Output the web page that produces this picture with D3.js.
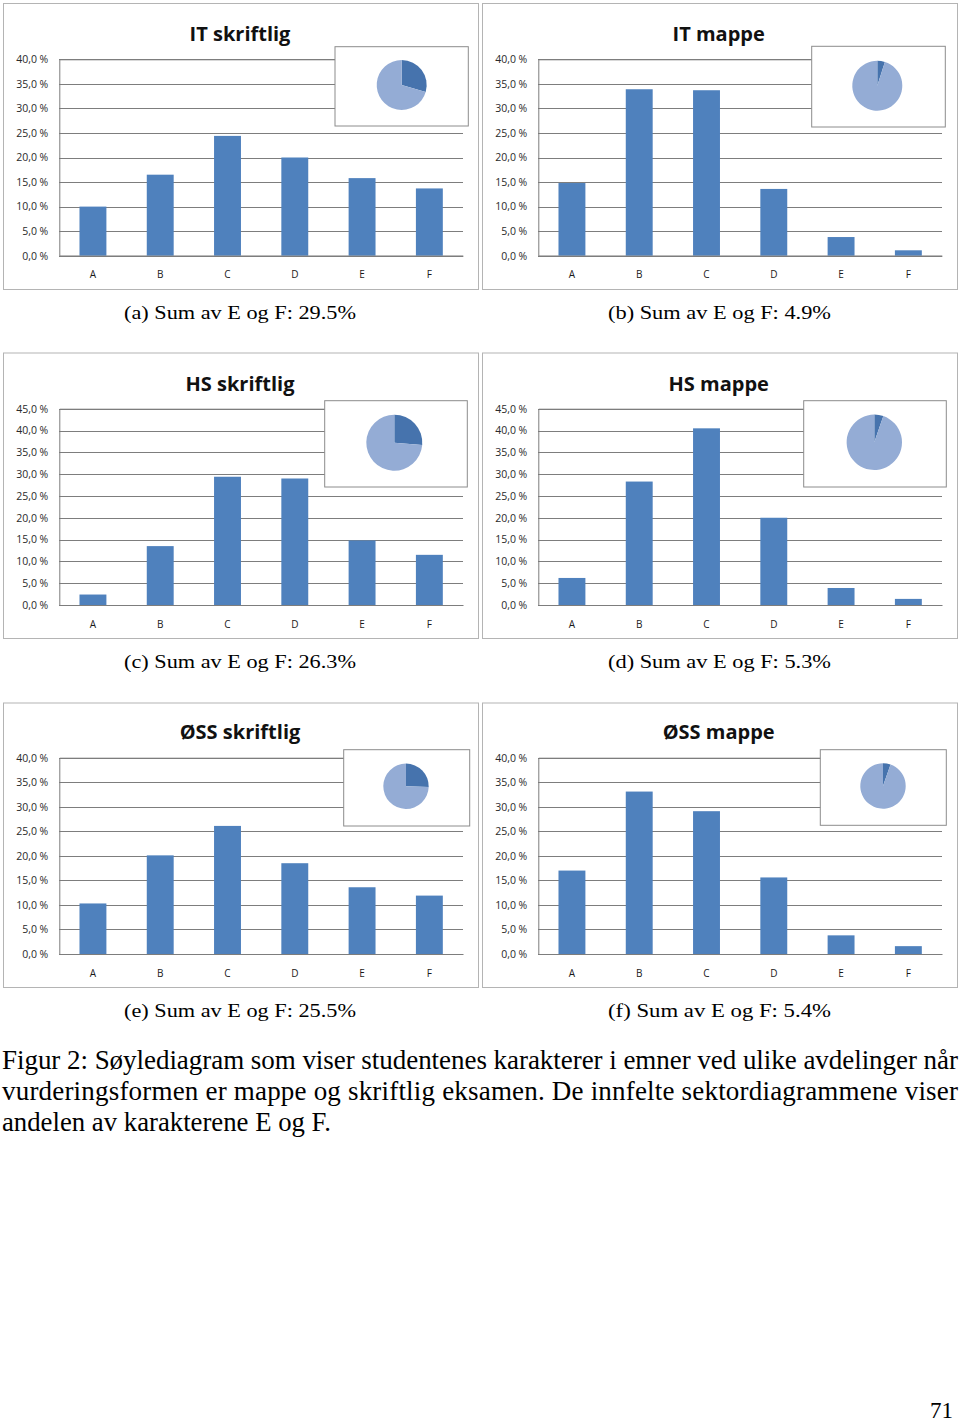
<!DOCTYPE html>
<html>
<head>
<meta charset="utf-8">
<script src="https://cdn.jsdelivr.net/npm/d3@7"></script>
<style>
  body { margin: 0; background: #fff; }
  svg { display: block; }
</style>
</head>
<body>
<svg id="fig" width="960" height="1423"></svg>
<script>
// grades on the x axis
var grades = ["A", "B", "C", "D", "E", "F"];

// percent of students per grade
var itSkriftlig  = [10.0, 16.5, 24.4, 20.0, 15.8, 13.7];
var itMappe      = [14.8, 33.9, 33.7, 13.6, 3.8, 1.1];
var hsSkriftlig  = [2.4, 13.5, 29.4, 29.0, 14.8, 11.5];
var hsMappe      = [6.2, 28.3, 40.5, 20.0, 3.9, 1.4];
var ossSkriftlig = [10.3, 20.1, 26.1, 18.5, 13.6, 11.9];
var ossMappe     = [17.0, 33.1, 29.1, 15.6, 3.8, 1.6];

var titles   = ["IT skriftlig", "IT mappe", "HS skriftlig", "HS mappe", "ØSS skriftlig", "ØSS mappe"];
var letters  = ["a", "b", "c", "d", "e", "f"];
var sumEF    = [29.5, 4.9, 26.3, 5.3, 25.5, 5.4];
var yMaxes   = [40, 40, 45, 45, 40, 40];
var series   = [itSkriftlig, itMappe, hsSkriftlig, hsMappe, ossSkriftlig, ossMappe];

var captionLines = [
    "Figur 2: Søylediagram som viser studentenes karakterer i emner ved ulike avdelinger når",
    "vurderingsformen er mappe og skriftlig eksamen. De innfelte sektordiagrammene viser",
    "andelen av karakterene E og F."
];

// layout (pixels) - kept apart from the data
var colX = [3, 482];
var rows = [
    {top: 3,     bottom: 289, plotTop: 59.3,  zero: 255.7, title: 41,    cat: 275,   cap: 319},
    {top: 352.5, bottom: 638, plotTop: 408.7, zero: 605,   title: 390.7, cat: 624.7, cap: 668},
    {top: 702.5, bottom: 987, plotTop: 757.7, zero: 954,   title: 739.3, cat: 973.7, cap: 1017}
];
var insets = [
    {x0: 335,   y0: 46.7,  x1: 468.3, y1: 126,   cx: 401.7, cy: 85,    r: 25},
    {x0: 811.7, y0: 46.3,  x1: 945.3, y1: 127,   cx: 877.3, cy: 85.7,  r: 25},
    {x0: 324.7, y0: 400.7, x1: 467.3, y1: 487,   cx: 394.3, cy: 442.7, r: 28},
    {x0: 803.7, y0: 400.7, x1: 946.3, y1: 487,   cx: 874.3, cy: 442.3, r: 27.7},
    {x0: 343.7, y0: 749.7, x1: 469.7, y1: 826,   cx: 406,   cy: 786.3, r: 22.7},
    {x0: 820.3, y0: 749.7, x1: 946.3, y1: 825.3, cx: 883,   cy: 786,   r: 22.7}
];
var capWidth = [232, 223];

var barColor = "#4f81bd";
var pieDark = "#4673ad";
var pieLight = "#94acd5";
var gridColor = "#7d7d7d";

var svg = d3.select("#fig");

function fmt(d) {
    return d.toFixed(1).replace(".", ",") + " %";
}

function drawPanel(i) {
    var col = i % 2, row = rows[Math.floor(i / 2)];
    var bx = colX[col];
    var g = svg.append("g");

    // chart frame
    g.append("rect")
        .attr("x", bx + 0.5).attr("y", row.top + 0.5)
        .attr("width", 475).attr("height", row.bottom - row.top)
        .attr("fill", "#fff").attr("stroke", "#b4b4b4");

    var left = bx + 56.3, right = bx + 460;
    var x = d3.scaleBand().domain(grades).range([left, right])
        .paddingInner(0.6).paddingOuter(0.3);
    var y = d3.scaleLinear().domain([0, yMaxes[i]]).range([row.zero, row.plotTop]);

    // gridlines + y labels
    var yAxis = d3.axisLeft(y)
        .tickValues(d3.range(0, yMaxes[i] + 0.1, 5))
        .tickFormat(fmt)
        .tickSize(-(right - left))
        .tickPadding(11);
    var ya = g.append("g").attr("transform", "translate(" + left + ",0)").call(yAxis);
    ya.select(".domain").attr("stroke", gridColor);
    ya.selectAll(".tick line").attr("stroke", gridColor).attr("shape-rendering", "crispEdges");
    ya.selectAll(".tick text")
        .attr("font-family", "'Open Sans', sans-serif")
        .attr("font-size", 10.5).attr("fill", "#2a2a2a");

    // bars
    g.selectAll(".bar").data(series[i]).enter().append("rect")
        .attr("x", function(d, k) { return x(grades[k]); })
        .attr("y", function(d) { return y(d); })
        .attr("width", x.bandwidth())
        .attr("height", function(d) { return row.zero - y(d); })
        .attr("fill", barColor);

    // x axis
    var xa = g.append("g").attr("transform", "translate(0," + row.zero + ")")
        .call(d3.axisBottom(x).tickSize(0).tickPadding(0));
    xa.select(".domain").attr("stroke", gridColor);
    xa.selectAll(".tick text")
        .attr("y", row.cat - row.zero).attr("dy", "0.35em")
        .attr("font-family", "'Open Sans', sans-serif")
        .attr("font-size", 10).attr("fill", "#1a1a1a");

    // title
    g.append("text")
        .attr("x", bx + (col === 0 ? 237 : 236.7)).attr("y", row.title)
        .attr("text-anchor", "middle")
        .attr("font-family", "'Open Sans', sans-serif")
        .attr("font-weight", "bold").attr("font-size", 20)
        .attr("fill", "#111")
        .text(titles[i]);

    // inset pie
    var b = insets[i];
    g.append("rect")
        .attr("x", b.x0).attr("y", b.y0)
        .attr("width", b.x1 - b.x0).attr("height", b.y1 - b.y0)
        .attr("fill", "#fff").attr("stroke", "#8c8c8c");
    var pie = d3.pie().sort(null)([sumEF[i], 100 - sumEF[i]]);
    var arc = d3.arc().innerRadius(0).outerRadius(b.r);
    g.append("g").attr("transform", "translate(" + b.cx + "," + b.cy + ")")
        .selectAll("path").data(pie).enter().append("path")
        .attr("d", arc)
        .attr("fill", function(d, k) { return k === 0 ? pieDark : pieLight; });

    // sub caption
    g.append("text")
        .attr("x", bx + (col === 0 ? 237 : 237.5)).attr("y", row.cap)
        .attr("text-anchor", "middle")
        .attr("font-family", "'Liberation Serif', 'Times New Roman', serif")
        .attr("font-size", 18)
        .attr("textLength", capWidth[col])
        .attr("lengthAdjust", "spacingAndGlyphs")
        .text("(" + letters[i] + ") Sum av E og F: " + sumEF[i].toFixed(1) + "%");
}

for (var i = 0; i < 6; i++) {
    drawPanel(i);
}

// figure caption
var lineWidths = [956, 956, 329];
captionLines.forEach(function(t, k) {
    svg.append("text")
        .attr("x", 2).attr("y", 1069 + k * 31)
        .attr("font-family", "'Liberation Serif', 'Times New Roman', serif")
        .attr("font-size", 27)
        .attr("textLength", lineWidths[k])
        .attr("lengthAdjust", k < 2 ? "spacing" : "spacingAndGlyphs")
        .text(t);
});

// page number
svg.append("text")
    .attr("x", 953).attr("y", 1418)
    .attr("text-anchor", "end")
    .attr("font-family", "'Liberation Serif', 'Times New Roman', serif")
    .attr("font-size", 23)
    .text("71");
</script>
</body>
</html>
